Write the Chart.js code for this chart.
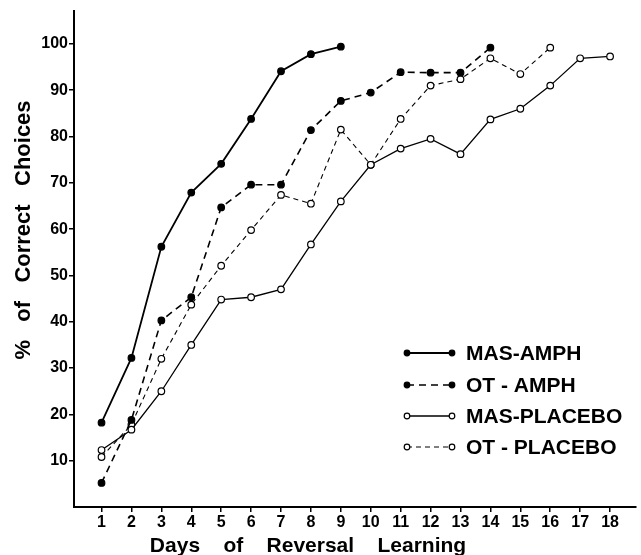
<!DOCTYPE html>
<html>
<head>
<meta charset="utf-8">
<script src="https://cdn.jsdelivr.net/npm/chart.js@4.4.0/dist/chart.umd.min.js"></script>
<style>
  body { margin: 0; background: #fff; }
  #wrap { width: 641px; height: 555px; }
</style>
</head>
<body>
<div id="wrap"><canvas id="canvas" width="641" height="555"></canvas></div>
<script>
let ctx = document.getElementById("canvas").getContext("2d")

// days of reversal learning
const days = [1, 2, 3, 4, 5, 6, 7, 8, 9, 10, 11, 12, 13, 14, 15, 16, 17, 18]
const yTicks = [10, 20, 30, 40, 50, 60, 70, 80, 90, 100]

const seriesNames = ["MAS-AMPH", "OT - AMPH", "MAS-PLACEBO", "OT - PLACEBO"]
const masAmph = [18.2, 32.2, 56.2, 67.9, 74.1, 83.8, 94.1, 97.8, 99.4]
const otAmph = [5.2, 18.8, 40.3, 45.3, 64.7, 69.6, 69.6, 81.4, 87.7, 89.5, 93.9, 93.8, 93.8, 99.2]
const masPlacebo = [12.3, 16.7, 25.0, 35.0, 44.8, 45.3, 47.0, 56.7, 66.0, 73.9, 77.4, 79.5, 76.2, 83.7, 86.0, 91.0, 96.9, 97.3]
const otPlacebo = [10.8, 17.8, 32.0, 43.7, 52.1, 59.8, 67.4, 65.5, 81.5, 73.9, 83.8, 91.0, 92.4, 96.9, 93.5, 99.2]

function pts(values) {
    return values.map((v, i) => ({ x: days[i], y: v }))
}

const FONT = "'Liberation Sans', Arial, sans-serif"

function makeSet(label, values, filled, dash, width) {
    return {
        label: label,
        data: pts(values),
        borderColor: "#000",
        borderWidth: width,
        borderDash: dash,
        pointRadius: 3.3,
        pointBorderWidth: 1.2,
        pointBorderColor: "#000",
        pointBackgroundColor: filled ? "#000" : "#fff",
        tension: 0,
        fill: false,
    }
}

const datasets = [
    makeSet(seriesNames[0], masAmph, true, [], 1.8),
    makeSet(seriesNames[1], otAmph, true, [7, 5], 1.6),
    makeSet(seriesNames[2], masPlacebo, false, [], 1.3),
    makeSet(seriesNames[3], otPlacebo, false, [5, 4], 1.1),
]

// legend and axis titles drawn by hand so they sit where the figure has them
const extras = {
    id: "extras",
    afterDatasetsDraw(chart) {
        const c = chart.ctx
        c.save()
        c.fillStyle = "#000"
        c.font = "bold 22px " + FONT
        c.textAlign = "center"
        c.textBaseline = "middle"
        c.translate(24, 230)
        c.rotate(-Math.PI / 2)
        c.fillText("%   of   Correct   Choices", 0, 0)
        c.restore()

        c.save()
        c.fillStyle = "#000"
        c.font = "bold 21px " + FONT
        c.textAlign = "center"
        c.textBaseline = "middle"
        c.fillText("Days    of    Reversal    Learning", 308, 546)
        c.restore()

        const rows = [353, 385, 416, 447]
        chart.data.datasets.forEach((ds, i) => {
            const y = rows[i]
            c.save()
            c.strokeStyle = "#000"
            c.lineWidth = ds.borderWidth
            c.setLineDash(ds.borderDash)
            c.beginPath()
            c.moveTo(407, y)
            c.lineTo(452, y)
            c.stroke()
            c.setLineDash([])
            c.lineWidth = 1.2
            c.fillStyle = ds.pointBackgroundColor;
            [407, 452].forEach(x => {
                c.beginPath()
                c.arc(x, y, 2.8, 0, Math.PI * 2)
                c.fill()
                c.stroke()
            })
            c.fillStyle = "#000"
            c.font = "bold 21px " + FONT
            c.textAlign = "left"
            c.textBaseline = "middle"
            c.fillText(ds.label, 466, y + 1)
            c.restore()
        })
    }
}

const config = {
    type: "line",
    data: { datasets: datasets },
    options: {
        responsive: false,
        animation: false,
        layout: { padding: { top: 8, right: 0, left: 0, bottom: 0 } },
        plugins: {
            legend: { display: false },
            tooltip: { enabled: false },
        },
        scales: {
            x: {
                type: "linear",
                min: 0.08,
                max: 18.86,
                afterBuildTicks: s => { s.ticks = days.map(d => ({ value: d })) },
                afterFit: s => { s.height = 48 },
                border: { display: true, color: "#000", width: 2 },
                grid: { drawOnChartArea: false, drawTicks: true, tickLength: 5, color: "#000", lineWidth: 1.5 },
                ticks: { color: "#000", font: { family: FONT, size: 16, weight: "bold" }, padding: 1, maxRotation: 0 },
            },
            y: {
                min: 0,
                max: 107.2,
                afterBuildTicks: s => { s.ticks = yTicks.map(v => ({ value: v })) },
                afterFit: s => { s.width = 74 },
                border: { display: true, color: "#000", width: 2 },
                grid: { drawOnChartArea: false, drawTicks: true, tickLength: 5, color: "#000", lineWidth: 1.5 },
                ticks: { color: "#000", font: { family: FONT, size: 16, weight: "bold" }, padding: 1 },
            }
        }
    },
    plugins: [extras]
}

let chart = new Chart(ctx, config)
</script>
</body>
</html>
